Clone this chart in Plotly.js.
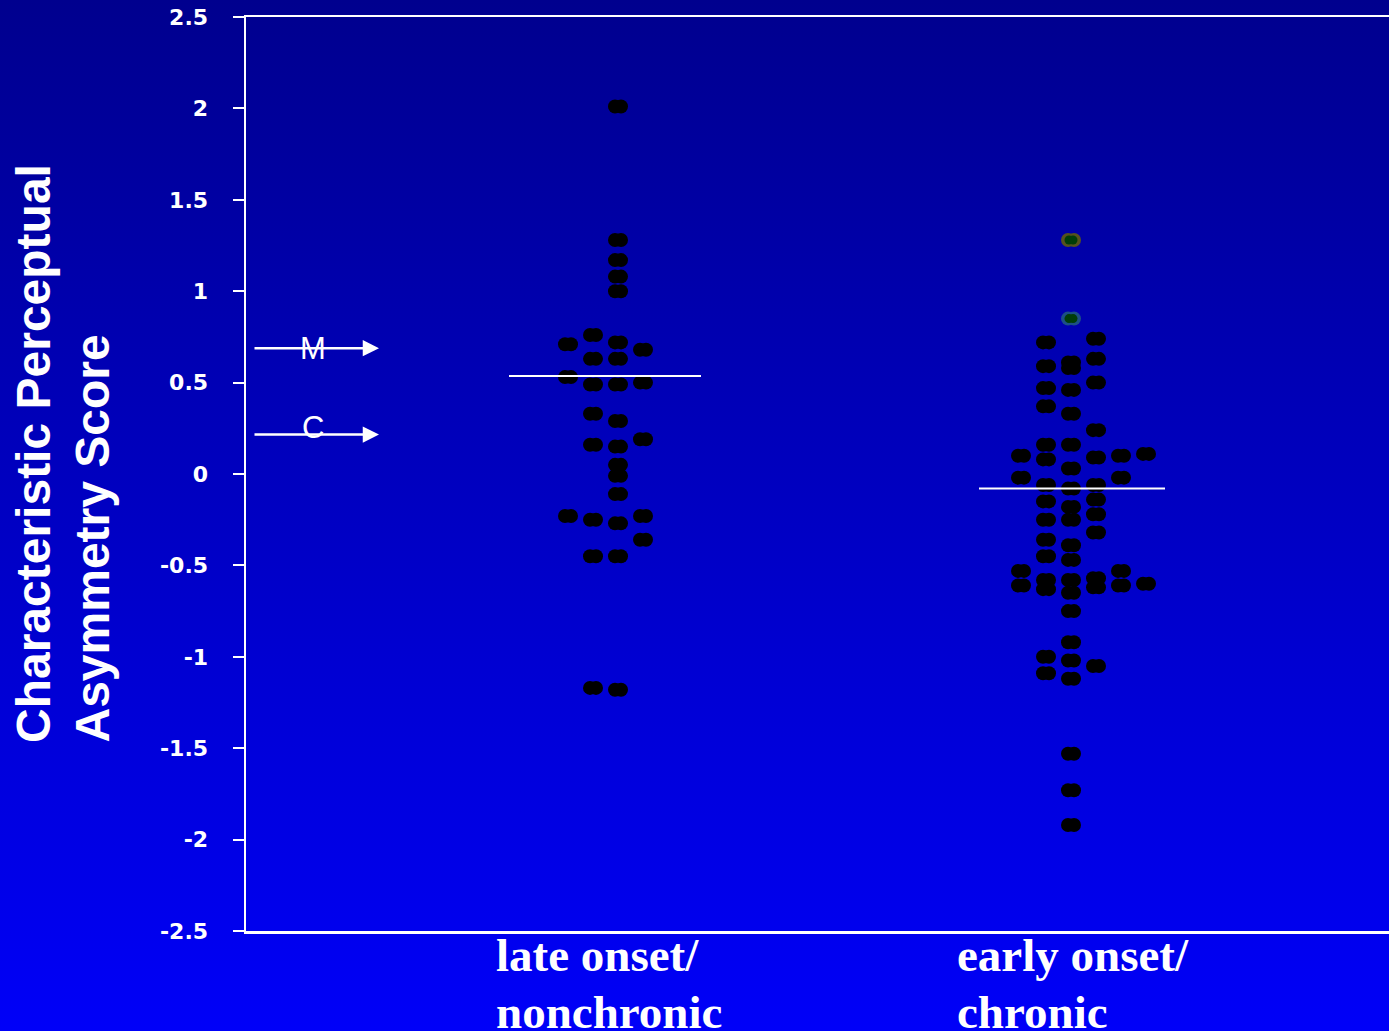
<!DOCTYPE html>
<html>
<head>
<meta charset="utf-8">
<script src="https://cdn.plot.ly/plotly-3.0.1.min.js"></script>
<style>
  html, body { margin: 0; padding: 0; }
  body { width: 1389px; height: 1031px; background: linear-gradient(to bottom, #00008e 0%, #0000f8 100%); overflow: hidden; }
  #chart { width: 1389px; height: 1031px; }
</style>
</head>
<body>
<div id="chart"></div>
<script>
// ---------- data ----------
const groupNames = ['late onset/', 'nonchronic'];
const groupNames2 = ['early onset/', 'chronic'];
const groupCenters = [1, 2];
const yTitleLines = ['Characteristic Perceptual', 'Asymmetry Score'];

// late onset / nonchronic: scores and swarm column index
const lateScores = [2.01, 1.28, 1.17, 1.08, 1.00,
  0.71, 0.76, 0.72, 0.68, 0.63, 0.63,
  0.53, 0.49, 0.49, 0.50, 0.33, 0.29,
  0.16, 0.15, 0.19, 0.05, -0.01, -0.11,
  -0.23, -0.25, -0.27, -0.23, -0.36, -0.45, -0.45,
  -1.17, -1.18];
const lateCols = [0, 0, 0, 0, 0,
  -2, -1, 0, 1, -1, 0,
  -2, -1, 0, 1, -1, 0,
  -1, 0, 1, 0, 0, 0,
  -2, -1, 0, 1, 1, -1, 0,
  -1, 0];

// early onset / chronic
const earlyScores = [0.72, 0.74, 0.59, 0.61, 0.58, 0.63, 0.47, 0.46, 0.50, 0.37, 0.33, 0.24, 0.16, 0.16,
  0.10, 0.08, 0.09, 0.10, 0.11, 0.03, -0.02, -0.02, -0.06, -0.08, -0.06,
  -0.15, -0.18, -0.14, -0.22, -0.25, -0.25, -0.32, -0.36, -0.39, -0.45, -0.47,
  -0.53, -0.53, -0.61, -0.58, -0.63, -0.58, -0.65, -0.57, -0.62, -0.61, -0.60, -0.75,
  -0.92, -1.00, -1.02, -1.05, -1.09, -1.12, -1.53, -1.73, -1.92];
const earlyCols = [-1, 1, -1, 0, 0, 1, -1, 0, 1, -1, 0, 1, -1, 0,
  -2, -1, 1, 2, 3, 0, -2, 2, -1, 0, 1,
  -1, 0, 1, 1, -1, 0, 1, -1, 0, -1, 0,
  -2, 2, -2, -1, -1, 0, 0, 1, 1, 2, 3, 0,
  0, -1, 0, 1, -1, 0, 0, 0, 0];

// highlighted (green) early-onset cases
const greenScores = [1.28, 0.85];
const greenCols = [0, 0];
const greenRing = ['#55521e', '#1c4f86'];

// group reference lines
const refLines = [0.536, -0.079];

// reference markers M and C
const markLabels = ['M', 'C'];
const markValues = [0.688, 0.216];

const yTickVals = [2.5, 2, 1.5, 1, 0.5, 0, -0.5, -1, -1.5, -2, -2.5];
const yTickText = ['2.5', '2', '1.5', '1', '0.5', '0', '-0.5', '-1', '-1.5', '-2', '-2.5'];

// ---------- layout geometry ----------
const W = 1389, H = 1031;
const mL = 246, mR = 0, mT = 17, mB = 100;
const plotW = W - mL - mR, plotH = H - mT - mB;
const pxPerUnit = 453;
const xmin = 1 - 372 / pxPerUnit;
const xmax = xmin + plotW / pxPerUnit;
const colStep = 25 / pxPerUnit;
const px = p => p / pxPerUnit;

function dotXY(center, scores, cols, shift) {
  const x = [], y = [];
  scores.forEach((v, i) => { x.push(center + cols[i] * colStep + px(shift)); y.push(v); });
  return {x, y};
}

const traces = [];
function addEllipse(center, scores, cols, size, half, color) {
  [-half, half].forEach(s => {
    const d = dotXY(center, scores, cols, s);
    traces.push({type: 'scatter', mode: 'markers', x: d.x, y: d.y, hoverinfo: 'skip',
      marker: {size: size, color: color, line: {width: 0}}, showlegend: false});
  });
}
addEllipse(groupCenters[0], lateScores, lateCols, 14, 3, '#000000');
addEllipse(groupCenters[1], earlyScores, earlyCols, 14, 3, '#000000');
greenScores.forEach((v, i) => {
  addEllipse(groupCenters[1], [v], [greenCols[i]], 14, 3, greenRing[i]);
  addEllipse(groupCenters[1], [v], [greenCols[i]], 9, 2, '#003d08');
});

// reference lines (drawn over dots)
const lineHalf = [[-109, 83], [-92, 94]];
refLines.forEach((v, i) => {
  traces.push({type: 'scatter', mode: 'lines', hoverinfo: 'skip', showlegend: false,
    x: [groupCenters[i] + px(lineHalf[i][0]), groupCenters[i] + px(lineHalf[i][1])], y: [v, v],
    line: {color: '#ffffff', width: 2}});
});

const annotations = [];
// arrows M, C
const arrowHeadPx = 379, arrowTailPx = 253;
markValues.forEach((v, i) => {
  annotations.push({xref: 'paper', yref: 'y', x: (arrowHeadPx - mL) / plotW, y: v,
    axref: 'pixel', ayref: 'pixel', ax: -(arrowHeadPx - arrowTailPx), ay: 0,
    showarrow: true, arrowhead: 2, arrowsize: 1.3, arrowwidth: 2.5, arrowcolor: '#ffffff', text: ''});
  annotations.push({xref: 'paper', yref: 'y', x: (313 - mL) / plotW, y: v, yshift: i === 1 ? 7 : 0,
    showarrow: false, text: markLabels[i], xanchor: 'center', yanchor: 'middle',
    font: {family: 'Liberation Sans, Arial, sans-serif', size: 31, color: '#ffffff'}});
});

// category labels (left aligned, two lines)
const catLeft = [494, 955];
[[groupNames, 0], [groupNames2, 1]].forEach(([names, gi]) => {
  names.forEach((t, li) => {
    annotations.push({xref: 'paper', yref: 'paper', x: (catLeft[gi] - mL) / plotW,
      y: (H - mB - (li === 0 ? 955 : 1012)) / plotH,
      xanchor: 'left', yanchor: 'middle', showarrow: false, text: '<b>' + t + '</b>',
      font: {family: 'Liberation Serif, Times New Roman, serif', size: 47, color: '#ffffff'}});
  });
});

// y-axis title, one annotation per line
const titleLeft = [5, 63];
yTitleLines.forEach((t, li) => {
  annotations.push({xref: 'paper', yref: 'paper', x: (titleLeft[li] - mL) / plotW, y: (H - mB - 745) / plotH,
    xanchor: 'left', yanchor: 'bottom', showarrow: false, textangle: -90,
    text: '<b>' + t + '</b>',
    font: {family: 'Liberation Sans, Arial, sans-serif', size: 48, color: '#ffffff'}});
});

const layout = {
  width: W, height: H,
  margin: {l: mL, r: mR, t: mT, b: mB, pad: 0},
  paper_bgcolor: 'rgba(0,0,0,0)', plot_bgcolor: 'rgba(0,0,0,0)',
  showlegend: false,
  xaxis: {range: [xmin, xmax], showgrid: false, zeroline: false, showticklabels: false, ticks: '',
    showline: true, mirror: true, linecolor: '#ffffff', linewidth: 2.5, fixedrange: true},
  yaxis: {range: [-2.5, 2.5], showgrid: false, zeroline: false, tickmode: 'array',
    tickvals: yTickVals, ticktext: yTickText, ticks: 'outside', ticklen: 11, tickwidth: 2,
    tickcolor: '#ffffff', showline: true, mirror: false, linecolor: '#ffffff', linewidth: 2.5,
    ticklabelstandoff: 20,
    tickfont: {family: 'DejaVu Sans, sans-serif', size: 22, color: '#ffffff', weight: 'bold'},
    fixedrange: true},
  annotations: annotations
};

Plotly.newPlot('chart', traces, layout, {staticPlot: true, displayModeBar: false});
</script>
</body>
</html>
